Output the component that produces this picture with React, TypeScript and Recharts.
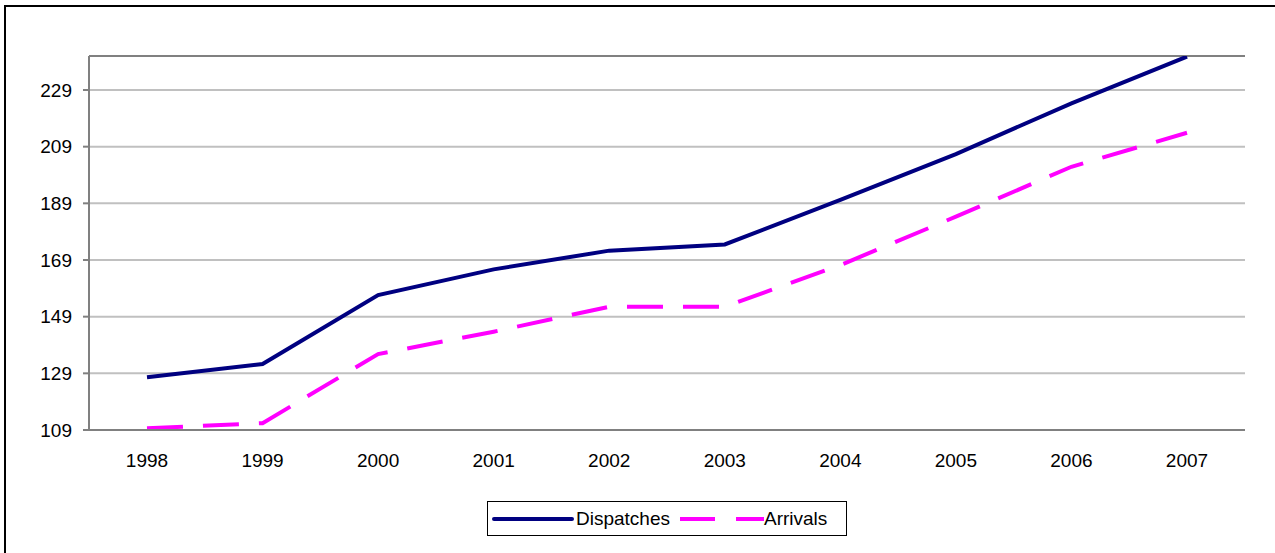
import * as React from "react";
import {
  LineChart,
  Line,
  XAxis,
  YAxis,
  CartesianGrid,
  ReferenceLine,
} from "recharts";

// chart values
const years = ["1998", "1999", "2000", "2001", "2002", "2003", "2004", "2005", "2006", "2007"];
const dispatches = [127.6, 132.3, 156.6, 165.7, 172.3, 174.5, 190.2, 206.4, 224.3, 240.8];
const arrivals = [109.6, 111.4, 135.8, 143.7, 152.5, 152.5, 167.2, 184.3, 201.9, 213.9];
const yTicks = [109, 129, 149, 169, 189, 209, 229];
const yDomain = [109, 241];

const data = years.map((year, i) => ({
  year,
  Dispatches: dispatches[i],
  Arrivals: arrivals[i],
}));

const FONT = "'Liberation Sans', Arial, sans-serif";
const NAVY = "#000080";
const MAGENTA = "#FF00FF";
const BORDER = "#808080";

function LegendBox() {
  return (
    <div
      style={{
        position: "absolute",
        left: 487,
        top: 501,
        width: 358,
        height: 33,
        border: "1px solid #000",
        background: "#fff",
        display: "flex",
        alignItems: "center",
        fontFamily: FONT,
        fontSize: 19,
        color: "#000",
        boxSizing: "content-box",
      }}
    >
      <svg width={86} height={10} style={{ marginLeft: 4 }}>
        <line x1={2} y1={5} x2={80} y2={5} stroke={NAVY} strokeWidth={4} strokeLinecap="round" />
      </svg>
      <span style={{ marginLeft: -2 }}>Dispatches</span>
      <svg width={88} height={10} style={{ marginLeft: 8 }}>
        <line x1={2} y1={5} x2={86} y2={5} stroke={MAGENTA} strokeWidth={4} strokeDasharray="35 21" />
      </svg>
      <span style={{ marginLeft: -2 }}>Arrivals</span>
    </div>
  );
}

export default function App() {
  return (
    <div
      style={{
        position: "absolute",
        left: 0,
        top: 0,
        width: 1275,
        height: 553,
        background: "#fff",
        overflow: "hidden",
      }}
    >
      {/* outer chart frame (only top and left edges are in view) */}
      <div
        style={{
          position: "absolute",
          left: 4,
          top: 5,
          width: 1300,
          height: 600,
          borderTop: "2px solid #000",
          borderLeft: "2px solid #000",
        }}
      />
      <LineChart
        width={1275}
        height={553}
        data={data}
        margin={{ top: 56, right: 30, left: 0, bottom: 83 }}
        style={{ position: "absolute", left: 0, top: 0, fontFamily: FONT }}
      >
        <CartesianGrid vertical={false} stroke="#c0c0c0" strokeWidth={2} />
        <XAxis
          dataKey="year"
          padding={{ left: 58, right: 58 }}
          tickLine={false}
          tickSize={0}
          tickMargin={24}
          height={40}
          axisLine={{ stroke: BORDER, strokeWidth: 2 }}
          tick={{ fontSize: 19, fill: "#000", fontFamily: FONT }}
        />
        <YAxis
          width={89}
          domain={yDomain}
          ticks={yTicks}
          interval={0}
          allowDataOverflow
          tickSize={6}
          tickMargin={11}
          tickLine={{ stroke: BORDER, strokeWidth: 2 }}
          axisLine={{ stroke: BORDER, strokeWidth: 2 }}
          tick={{ fontSize: 19, fill: "#000", fontFamily: FONT }}
        />
        <YAxis
          yAxisId="frame"
          orientation="right"
          width={0}
          domain={yDomain}
          tick={false}
          tickLine={false}
          axisLine={{ stroke: BORDER, strokeWidth: 2 }}
        />
        <ReferenceLine y={yDomain[1]} stroke={BORDER} strokeWidth={2} />
        <Line
          type="linear"
          dataKey="Dispatches"
          stroke={NAVY}
          strokeWidth={4}
          dot={false}
          isAnimationActive={false}
        />
        <Line
          type="linear"
          dataKey="Arrivals"
          stroke={MAGENTA}
          strokeWidth={4}
          strokeDasharray="36 20"
          dot={false}
          isAnimationActive={false}
        />
      </LineChart>
      <LegendBox />
    </div>
  );
}
